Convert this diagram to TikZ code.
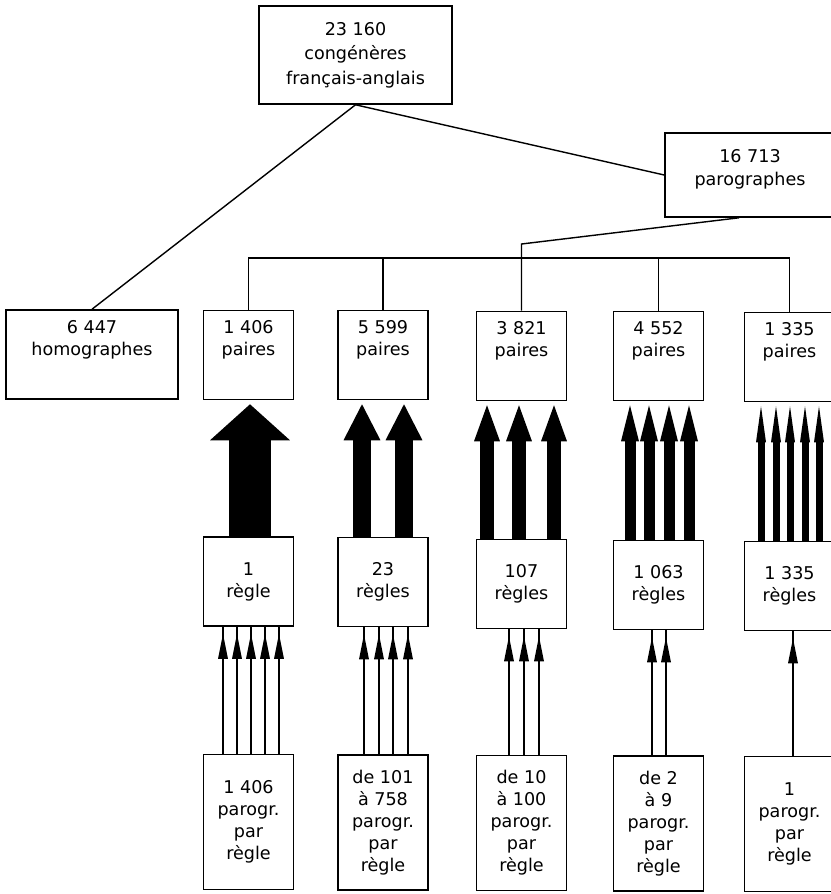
\documentclass[tikz,border=0pt]{standalone}
\usepackage{fontspec}
\setmainfont{DejaVu Sans}
\usetikzlibrary{arrows.meta,calc,decorations.markings}

\begin{document}
\begin{tikzpicture}[x=0.02cm,y=-0.02cm,
  font=\fontsize{10}{12.5}\selectfont,
  box/.style={draw,line width=0.9pt,align=center,inner sep=0pt},
  upper/.style={text depth=19pt},
  colbox/.style={box,minimum width=1.8cm,minimum height=1.78cm},
  link/.style={line width=0.8pt},
  thinarr/.style={line width=1.5pt,postaction={decorate},
    decoration={markings,mark=at position -0.14cm with
      {\arrow{Triangle[width=2mm,length=5mm,line width=0pt]}}}}]
\useasboundingbox (0,0) rectangle (831,894);
% haut de l'arbre
\node[box,minimum width=3.86cm,minimum height=1.96cm,font=\fontsize{10}{14}\selectfont]
  (cong) at (355.5,55) {23 160\\congénères\\français-anglais};
\node[box,text depth=9pt,minimum width=3.4cm,minimum height=1.68cm,font=\fontsize{10}{13}\selectfont]
  (parog) at (750,175) {16 713\\parographes};
\node[box,upper,minimum width=3.44cm,minimum height=1.78cm] (homog) at (92,354.5) {6 447\\homographes};
% paires
\node[colbox,upper] (p1) at (248.5,355) {1 406\\paires};
\node[colbox,upper] (p2) at (383,355) {5 599\\paires};
\node[colbox,upper] (p3) at (521.5,356) {3 821\\paires};
\node[colbox,upper] (p4) at (658.5,356) {4 552\\paires};
\node[colbox,upper] (p5) at (789.5,357) {1 335\\paires};
% regles
\node[colbox] (r1) at (248.5,581.5) {1\\règle};
\node[colbox] (r2) at (383,582) {23\\règles};
\node[colbox] (r3) at (521.5,584) {107\\règles};
\node[colbox] (r4) at (658.5,585) {1 063\\règles};
\node[colbox] (r5) at (789.5,586) {1 335\\règles};
% parographes par regle
\node[colbox,minimum height=2.7cm] (b1) at (248.5,822) {1 406\\parogr.\\par\\règle};
\node[colbox,minimum height=2.7cm] (b2) at (383,822.5) {de 101\\à 758\\parogr.\\par\\règle};
\node[colbox,minimum height=2.7cm] (b3) at (521.5,823) {de 10\\à 100\\parogr.\\par\\règle};
\node[colbox,minimum height=2.7cm] (b4) at (658.5,823.5) {de 2\\à 9\\parogr.\\par\\règle};
\node[colbox,minimum height=2.7cm] (b5) at (789.5,824) {1\\parogr.\\par\\règle};

\draw[link] (cong.south) -- (homog.north);
\draw[link] (cong.south) -- (parog.west);
\draw[link] ([xshift=-0.22cm]parog.south) -- (p3.north |- 0,244) -- (p3.north);
\draw[link] (p1.north) -- (p1.north |- 0,258) -- (p5.north |- 0,258) -- (p5.north);
\draw[link] (p2.north) -- (p2.north |- 0,258);
\draw[link] (p4.north) -- (p4.north |- 0,258);

% grosses fleches : regles -> paires
\foreach \c/\w/\h/\offs in {1/0.84cm/1.6cm/{1.5},
    2/0.38cm/0.74cm/{-21,21},
    3/0.28cm/0.52cm/{-34.5,-2.5,32.5},
    4/0.22cm/0.36cm/{-28.5,-9.5,10.5,30.5},
    5/0.14cm/0.2cm/{-28.5,-13.5,0.5,15.5,29.5}}
  \foreach \o in \offs
    \draw[line width=\w,-{Triangle[width=\h,length=7.2mm,line width=0pt]},shorten >=0.08cm]
      ($(r\c.north)+(\o,0)$) -- ($(p\c.south)+(\o,0)$);

% fleches fines : parographes -> regles
\foreach \c/\offs in {1/{-25.5,-11.5,2.5,16.5,30.5},
    2/{-19,-4,10,25},
    3/{-12.5,2.5,17.5},
    4/{-6.5,7.5},
    5/{3.5}}
  \foreach \o in \offs
    \draw[thinarr] ($(b\c.north)+(\o,0)$) -- ($(r\c.south)+(\o,0)$);
\end{tikzpicture}
\end{document}
